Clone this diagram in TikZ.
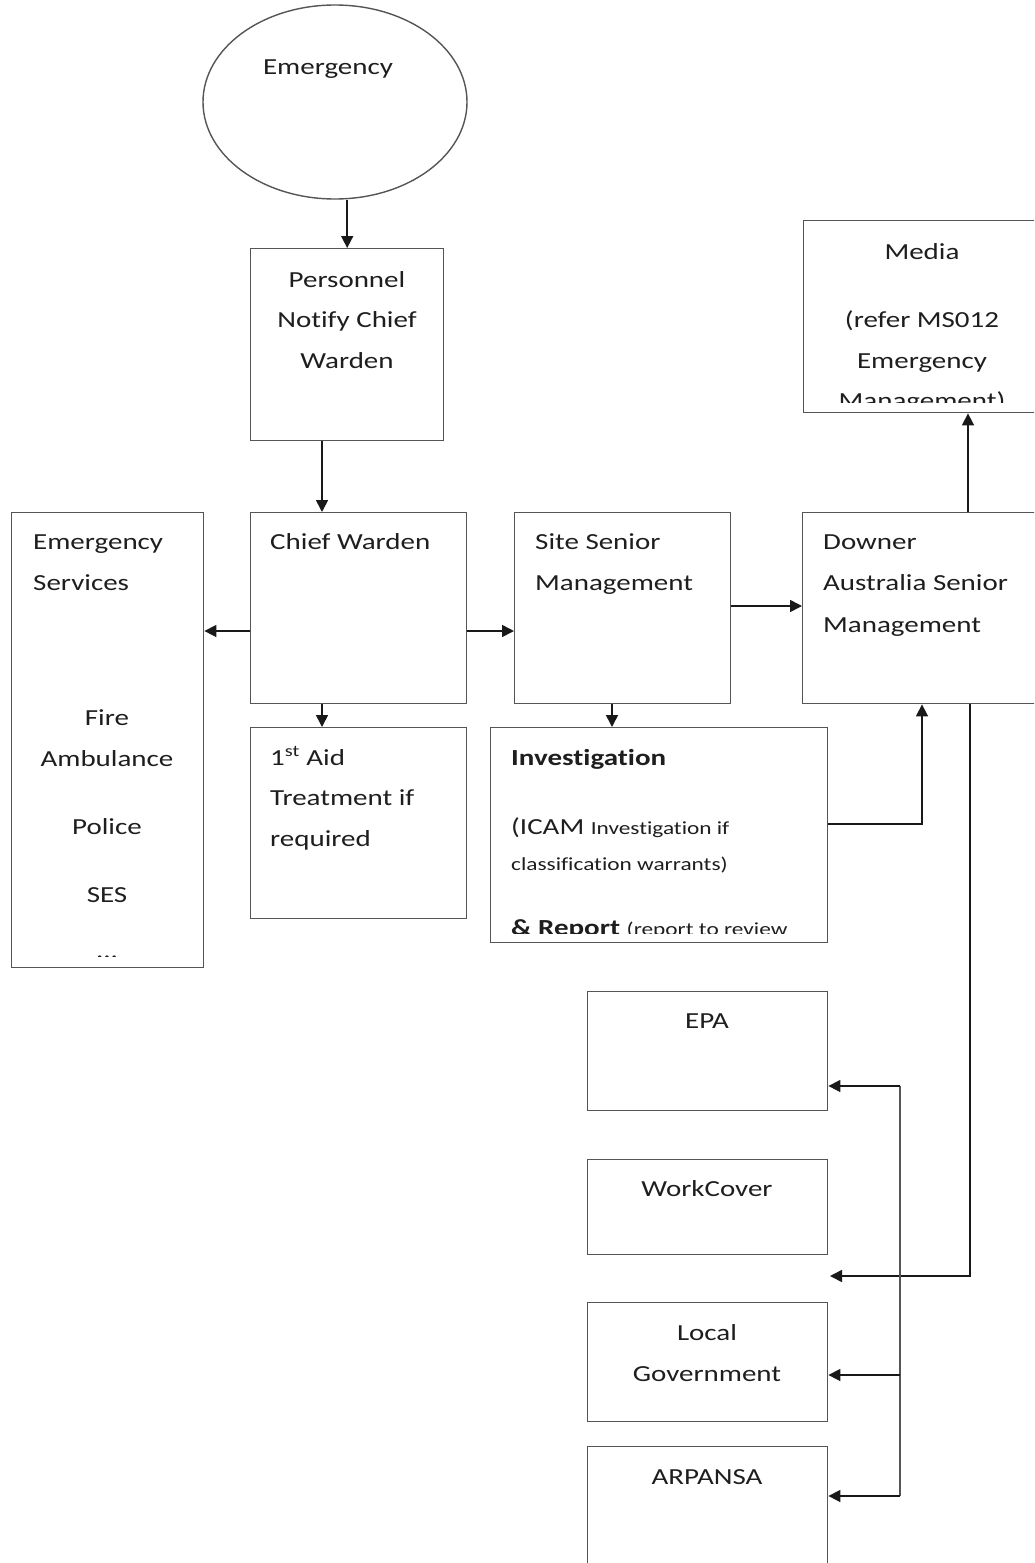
\documentclass[tikz,border=0pt]{standalone}
\usepackage{fontspec}
\setmainfont{Carlito}[FakeStretch=1.26, Ligatures=NoCommon]
\usetikzlibrary{arrows.meta,shapes.geometric}
\definecolor{boxgray}{HTML}{555555}
\definecolor{txtc}{HTML}{1E1E1E}
\begin{document}
\begin{tikzpicture}[x=1pt,y=-1pt,
  box/.style={draw=boxgray, line width=1.4pt, inner sep=0pt, anchor=north west},
  conn/.style={line width=1.6pt, draw=black!90, -{Triangle[length=12pt,width=12pt]}},
  bus/.style={line width=1.4pt, draw=boxgray},
  t/.style={font=\fontsize{23}{28}\selectfont, inner sep=0pt, anchor=mid, text=txtc, yshift=-6pt},
  tl/.style={t, anchor=mid west},
  ts/.style={font=\fontsize{18.5}{22}\selectfont, inner sep=0pt, anchor=mid west, text=txtc, yshift=-6pt},
]
\useasboundingbox (0,0) rectangle (1034,1563);
\clip (0,0) rectangle (1034,1563);

% helper coordinates
\coordinate (y631) at (0,631);
\coordinate (y606) at (0,606);
\coordinate (y824) at (0,824);
\coordinate (x322) at (322,0);
\coordinate (x612) at (612,0);
\coordinate (x922) at (922,0);
\coordinate (x968) at (968,0);
\coordinate (x970) at (970,0);
\coordinate (tip) at (830,1276);
\coordinate (b1) at (900,1086);
\coordinate (b2) at (900,1375);
\coordinate (b3) at (900,1496);

% shapes
\node[draw=boxgray, line width=1.4pt, ellipse, inner sep=0pt, minimum width=264pt, minimum height=194pt] (emerg) at (335,102) {};
\node[box, minimum width=193pt, minimum height=192pt] (pers) at (250,248) {};
\node[box, minimum width=216pt, minimum height=191pt] (chief) at (250,512) {};
\node[box, minimum width=192pt, minimum height=455pt] (es) at (11,512) {};
\node[box, minimum width=216pt, minimum height=191pt] (site) at (514,512) {};
\node[box, minimum width=250pt, minimum height=191pt] (downer) at (802,512) {};
\node[box, minimum width=250pt, minimum height=192pt] (media) at (803,220) {};
\node[box, minimum width=216pt, minimum height=191pt] (aid) at (250,727) {};
\node[box, minimum width=337pt, minimum height=215pt] (inv) at (490,727) {};
\node[box, minimum width=240pt, minimum height=119pt] (epa) at (587,991) {};
\node[box, minimum width=240pt, minimum height=95pt] (wc) at (587,1159) {};
\node[box, minimum width=240pt, minimum height=119pt] (lg) at (587,1302) {};
\node[box, minimum width=240pt, minimum height=140pt] (arp) at (587,1446) {};

% texts
\node[t] (temerg) at (328,66) {Emergency};
\node[t] (tp1) at (347,279) {Personnel};
\node[t] (tp2) at (347,319) {Notify Chief};
\node[t] (tp3) at (347,360) {Warden};
\node[tl] (tc1) at (270,541) {Chief Warden};
\node[tl] (tes1) at (33,541) {Emergency};
\node[tl] (tes2) at (33,582) {Services};
\node[t] (tes3) at (107,717) {Fire};
\node[t] (tes4) at (107,758) {Ambulance};
\node[t] (tes5) at (107,826) {Police};
\node[t] (tes6) at (107,894) {SES};
\begin{scope}
  \clip (12,900) rectangle (202,956);
  \node[font=\fontsize{23}{28}\selectfont, inner sep=0pt, text=txtc, anchor=base] (tes7) at (107,958.5) {...};
\end{scope}
\node[tl] (ts1) at (535,541) {Site Senior};
\node[tl] (ts2) at (535,582) {Management};
\node[tl] (td1) at (823,541) {Downer};
\node[tl] (td2) at (823,582) {Australia Senior};
\node[tl] (td3) at (823,624) {Management};
\node[t] (tm1) at (922,251) {Media};
\node[t] (tm2) at (922,319) {(refer MS012};
\node[t] (tm3) at (922,360) {Emergency};
\begin{scope}
  \clip (804,370) rectangle (1034,402);
  \node[t] (tm4) at (922,400) {Management)};
\end{scope}
\node[tl] (ta1) at (270,757) {1\textsuperscript{st} Aid};
\node[tl] (ta2) at (270,797) {Treatment if};
\node[tl] (ta3) at (270,838) {required};
\node[tl] (ti1) at (511,757) {\bfseries Investigation};
\node[tl] (ti2) at (511,826) {(ICAM {\fontsize{18.5}{22}\selectfont Investigation if}};
\node[ts] (ti3) at (511,862) {classification warrants)};
\begin{scope}
  \clip (491,895) rectangle (826,933);
  \node[tl] (ti4) at (511,927) {\bfseries \& Report {\mdseries\fontsize{18.5}{22}\selectfont (report to review}};
\end{scope}
\node[t] (tepa) at (707,1020) {EPA};
\node[t] (twc) at (707,1188) {WorkCover};
\node[t] (tlg1) at (707,1332) {Local};
\node[t] (tlg2) at (707,1373) {Government};
\node[t] (tarp) at (707,1476) {ARPANSA};

% connectors
\draw[conn] (emerg.south -| pers.north) -- (pers.north);
\draw[conn] (pers.south -| x322) -- (chief.north -| x322);
\draw[conn] (chief.west |- y631) -- (es.east |- y631);
\draw[conn] (chief.east |- y631) -- (site.west |- y631);
\draw[conn] (site.east |- y606) -- (downer.west |- y606);
\draw[conn] (downer.north -| x968) -- (media.south -| x968);
\draw[conn] (chief.south -| x322) -- (aid.north -| x322);
\draw[conn] (site.south -| x612) -- (inv.north -| x612);
\draw[conn] (inv.east |- y824) -| (downer.south -| x922);
\draw[conn] (downer.south -| x970) |- (tip);
\draw[bus] (b1) -- (b3);
\draw[conn] (b1) -- (epa.east |- b1);
\draw[conn] (b2) -- (lg.east |- b2);
\draw[conn] (b3) -- (arp.east |- b3);
\end{tikzpicture}
\end{document}
